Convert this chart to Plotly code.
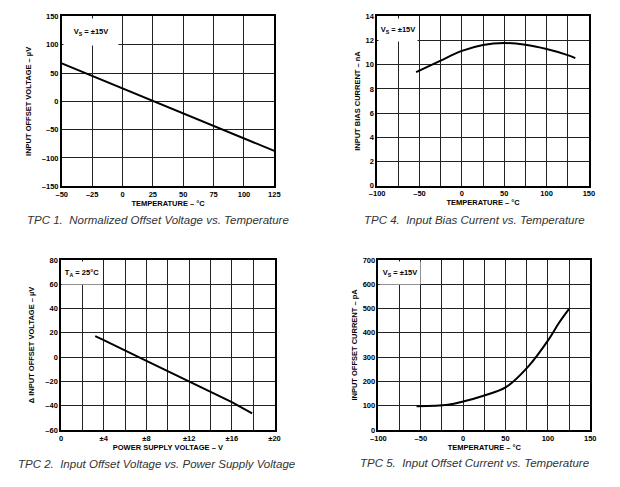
import plotly.graph_objects as go
from plotly.subplots import make_subplots

# TPC 1 - normalized offset voltage vs temperature
tpc1_temp = [-50, -25, 0, 25, 50, 75, 100, 125]
tpc1_vos = [67, 45, 23, 0, -21.5, -43, -65, -87.5]

# TPC 4 - input bias current vs temperature
tpc4_temp = [-54, -25, 0, 25, 50, 75, 100, 125, 134]
tpc4_ib = [9.4, 10.35, 11.15, 11.64, 11.8, 11.65, 11.3, 10.8, 10.55]

# TPC 2 - input offset voltage vs supply
tpc2_vs = [3.2, 4, 8, 12, 16, 17.9]
tpc2_dvos = [17.3, 14, -3.2, -20, -37, -46.3]

# TPC 5 - input offset current vs temperature
tpc5_temp = [-55, -18, 0, 24, 50, 77, 101, 113, 125]
tpc5_ios = [98, 104, 117, 141, 175, 262, 373, 440, 498]

x_temp1_vals = [-50, -25, 0, 25, 50, 75, 100, 125]
x_temp1_text = ["–50", "–25", "0", "25", "50", "75", "100", "125"]
y_vos_vals = [-150, -100, -50, 0, 50, 100, 150]
y_vos_text = ["–150", "–100", "–50", "0", "50", "100", "150"]

x_temp2_vals = [-100, -50, 0, 50, 100, 150]
x_temp2_text = ["–100", "–50", "0", "50", "100", "150"]
x_temp2_minor = [-75, -25, 25, 75, 125]
y_ib_vals = [0, 2, 4, 6, 8, 10, 12, 14]

x_vs_vals = [0.001, 4, 8, 12, 16, 20]
x_vs_text = ["0", "±4", "±8", "±12", "±16", "±20"]
x_vs_minor = [2, 6, 10, 14, 18]
y_dvos_vals = [-60, -40, -20, 0, 20, 40, 60, 80]
y_dvos_text = ["–60", "–40", "–20", "0", "20", "40", "60", "80"]

y_ios_vals = [0, 100, 200, 300, 400, 500, 600, 700]

conditions = ["V<sub>S</sub> = ±15V", "V<sub>S</sub> = ±15V",
              "T<sub>A</sub> = 25°C", "V<sub>S</sub> = ±15V"]

captions = [
    "TPC 1.  Normalized Offset Voltage vs. Temperature",
    "TPC 4.  Input Bias Current vs. Temperature",
    "TPC 2.  Input Offset Voltage vs. Power Supply Voltage",
    "TPC 5.  Input Offset Current vs. Temperature",
]

W, H = 620, 487
FONT = "Liberation Sans, Arial, sans-serif"

fig = make_subplots(rows=2, cols=2)

line_style = dict(color="black", width=2)
fig.add_trace(go.Scatter(x=tpc1_temp, y=tpc1_vos, mode="lines", line=line_style), row=1, col=1)
fig.add_trace(go.Scatter(x=tpc4_temp, y=tpc4_ib, mode="lines", line=dict(line_style, shape="spline")), row=1, col=2)
fig.add_trace(go.Scatter(x=tpc2_vs, y=tpc2_dvos, mode="lines", line=line_style), row=2, col=1)
fig.add_trace(go.Scatter(x=tpc5_temp, y=tpc5_ios, mode="lines", line=dict(line_style, shape="spline")), row=2, col=2)

# plot boxes in pixels (left, right, top, bottom)
boxes = [(55, 272.5, 12.7, 185.7), (377.7, 594.3, 12.7, 185),
         (54.3, 272.7, 260.7, 434), (379, 595.7, 260.7, 434)]


def dom_x(b):
    return [b[0] / W, b[1] / W]


def dom_y(b):
    return [1 - b[3] / H, 1 - b[2] / H]


tick_font = dict(family=FONT, size=7.5, color="black", weight="bold")
title_font = dict(family=FONT, size=7.5, color="black", weight="bold")
grid = dict(gridcolor="#222", gridwidth=1)
axis_common = dict(
    showline=True, linecolor="black", linewidth=1.5, mirror=True,
    showgrid=True, ticks="", zeroline=False, tickfont=tick_font,
    title_font=title_font, tickmode="array", **grid,
)

fig.update_xaxes(axis_common, domain=dom_x(boxes[0]), range=[-50, 125],
                 tickvals=x_temp1_vals, ticktext=x_temp1_text,
                 title_text="TEMPERATURE – °C", title_standoff=2, row=1, col=1)
fig.update_yaxes(axis_common, domain=dom_y(boxes[0]), range=[-150, 150],
                 tickvals=y_vos_vals, ticktext=y_vos_text,
                 title_text="INPUT OFFSET VOLTAGE – µV", title_standoff=9, row=1, col=1)

fig.update_xaxes(axis_common, domain=dom_x(boxes[1]), range=[-100, 150],
                 tickvals=x_temp2_vals, ticktext=x_temp2_text,
                 minor=dict(tickmode="array", tickvals=x_temp2_minor, showgrid=True, **grid),
                 title_text="TEMPERATURE – °C", title_standoff=2, row=1, col=2)
fig.update_yaxes(axis_common, domain=dom_y(boxes[1]), range=[0, 14],
                 tickvals=y_ib_vals, ticktext=[str(v) for v in y_ib_vals],
                 title_text="INPUT BIAS CURRENT – nA", title_standoff=4, row=1, col=2)

fig.update_xaxes(axis_common, domain=dom_x(boxes[2]), range=[0, 20],
                 tickvals=x_vs_vals, ticktext=x_vs_text,
                 minor=dict(tickmode="array", tickvals=x_vs_minor, showgrid=True, **grid),
                 title_text="POWER SUPPLY VOLTAGE – V", title_standoff=2, row=2, col=1)
fig.update_yaxes(axis_common, domain=dom_y(boxes[2]), range=[-60, 80],
                 tickvals=y_dvos_vals, ticktext=y_dvos_text,
                 title_text="Δ INPUT OFFSET VOLTAGE – µV", title_standoff=10, row=2, col=1)

fig.update_xaxes(axis_common, domain=dom_x(boxes[3]), range=[-100, 150],
                 tickvals=x_temp2_vals, ticktext=x_temp2_text,
                 minor=dict(tickmode="array", tickvals=x_temp2_minor, showgrid=True, **grid),
                 title_text="TEMPERATURE – °C", title_standoff=3, row=2, col=2)
fig.update_yaxes(axis_common, domain=dom_y(boxes[3]), range=[0, 700],
                 tickvals=y_ios_vals, ticktext=[str(v) for v in y_ios_vals],
                 title_text="INPUT OFFSET CURRENT – pA", title_standoff=4, row=2, col=2)

# condition labels: white box filling the top-left grid cell
# (box centre x px, box width px, cell height px)
cond_boxes = [(84.5, 54, 28.8), (399, 38, 24.6), (76, 40, 24.8), (401, 40, 24.8)]
refs = [("x domain", "y domain"), ("x2 domain", "y2 domain"),
        ("x3 domain", "y3 domain"), ("x4 domain", "y4 domain")]
for (xr, yr), b, (cx, bw, ch), txt in zip(refs, boxes, cond_boxes, conditions):
    pw, ph = b[1] - b[0], b[3] - b[2]
    fig.add_annotation(
        xref=xr, yref=yr, x=(cx - b[0]) / pw, y=1 - 1.5 / ph,
        xanchor="center", yanchor="top", width=bw, height=ch - 3,
        text=txt, showarrow=False, bgcolor="white", borderpad=0,
        font=dict(family=FONT, size=7.5, color="black", weight="bold"),
    )

# figure captions
cap_pos = [(153, 220), (477, 220), (152, 469), (477, 468)]
for (cx, cy), txt in zip(cap_pos, captions):
    fig.add_annotation(
        xref="paper", yref="paper", x=cx / W, y=1 - cy / H,
        xanchor="center", yanchor="middle", text=txt, showarrow=False,
        font=dict(family=FONT, size=11.5, color="#333", style="italic"),
    )

fig.update_layout(
    width=W, height=H,
    margin=dict(l=0, r=0, t=0, b=0),
    paper_bgcolor="white", plot_bgcolor="white",
    showlegend=False,
)

fig.write_html("out.html", config={"displayModeBar": False},
               post_script="document.body.style.margin='0';")
